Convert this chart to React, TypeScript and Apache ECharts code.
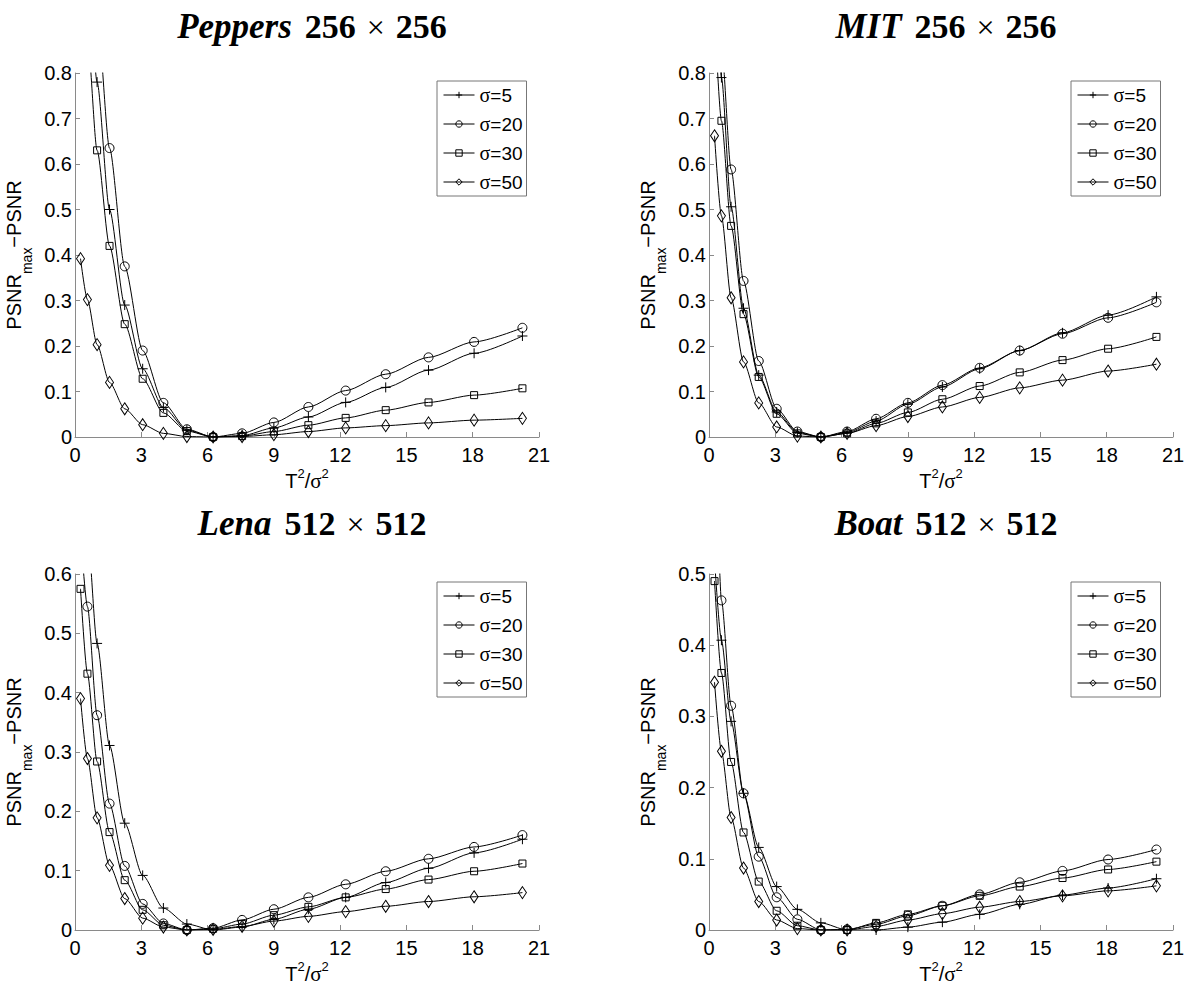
import React, { useEffect, useRef } from "react";
import * as echarts from "echarts";

// T^2 / sigma^2 sample positions
const X_VALUES = [0.25, 0.5625, 1, 1.5625, 2.25, 3.0625, 4, 5.0625, 6.25, 7.5625, 9, 10.5625, 12.25, 14.0625, 16, 18.0625, 20.25];

const SERIES_NAMES = ["σ=5", "σ=20", "σ=30", "σ=50"];
const X_TICKS = [0, 3, 6, 9, 12, 15, 18, 21];

// Peppers 256x256
const PEPPERS_S5 = [1.4, 1.05, 0.78, 0.5, 0.29, 0.15, 0.065, 0.015, 0, 0.003, 0.02, 0.044, 0.076, 0.109, 0.147, 0.184, 0.222];
const PEPPERS_S20 = [1.7, 1.3, 0.93, 0.635, 0.375, 0.19, 0.075, 0.017, 0, 0.008, 0.032, 0.066, 0.102, 0.138, 0.175, 0.209, 0.24];
const PEPPERS_S30 = [1.2, 0.88, 0.63, 0.42, 0.248, 0.128, 0.053, 0.013, 0, 0.002, 0.012, 0.026, 0.042, 0.059, 0.076, 0.092, 0.107];
const PEPPERS_S50 = [0.392, 0.302, 0.203, 0.12, 0.062, 0.027, 0.008, 0.001, 0, 0.001, 0.005, 0.012, 0.02, 0.025, 0.031, 0.037, 0.041];

// MIT 256x256
const MIT_S5 = [1.2, 0.79, 0.506, 0.283, 0.136, 0.055, 0.01, 0, 0.01, 0.035, 0.072, 0.11, 0.15, 0.19, 0.229, 0.268, 0.308];
const MIT_S20 = [1.15, 0.86, 0.588, 0.343, 0.167, 0.062, 0.012, 0, 0.012, 0.04, 0.075, 0.114, 0.152, 0.19, 0.227, 0.262, 0.296];
const MIT_S30 = [0.93, 0.695, 0.464, 0.27, 0.132, 0.051, 0.008, 0, 0.008, 0.03, 0.054, 0.083, 0.112, 0.142, 0.169, 0.194, 0.22];
const MIT_S50 = [0.662, 0.486, 0.306, 0.165, 0.075, 0.022, 0.002, 0, 0.008, 0.025, 0.045, 0.066, 0.087, 0.108, 0.125, 0.145, 0.16];

// Lena 512x512
const LENA_S5 = [0.85, 0.67, 0.483, 0.311, 0.18, 0.092, 0.037, 0.01, 0, 0.005, 0.018, 0.035, 0.055, 0.08, 0.104, 0.13, 0.153];
const LENA_S20 = [0.67, 0.545, 0.362, 0.213, 0.108, 0.044, 0.011, 0, 0.003, 0.017, 0.035, 0.055, 0.077, 0.099, 0.12, 0.14, 0.16];
const LENA_S30 = [0.575, 0.432, 0.284, 0.165, 0.084, 0.034, 0.008, 0, 0.002, 0.01, 0.025, 0.039, 0.055, 0.069, 0.085, 0.099, 0.112];
const LENA_S50 = [0.39, 0.289, 0.189, 0.109, 0.053, 0.02, 0.005, 0, 0.001, 0.006, 0.015, 0.023, 0.031, 0.04, 0.048, 0.056, 0.063];

// Boat 512x512
const BOAT_S5 = [0.52, 0.407, 0.293, 0.192, 0.116, 0.061, 0.029, 0.01, 0, 0, 0.004, 0.011, 0.022, 0.036, 0.049, 0.059, 0.072];
const BOAT_S20 = [0.75, 0.463, 0.315, 0.192, 0.103, 0.046, 0.015, 0, 0.001, 0.008, 0.02, 0.034, 0.05, 0.067, 0.083, 0.099, 0.113];
const BOAT_S30 = [0.49, 0.361, 0.236, 0.137, 0.068, 0.027, 0.006, 0, 0, 0.01, 0.022, 0.034, 0.048, 0.061, 0.073, 0.085, 0.096];
const BOAT_S50 = [0.348, 0.251, 0.158, 0.087, 0.04, 0.014, 0.002, 0, 0, 0.005, 0.014, 0.023, 0.032, 0.04, 0.048, 0.055, 0.062];

const PANEL_NAMES = ["Peppers", "MIT", "Lena", "Boat"];
const PANEL_SIZES = ["256", "256", "512", "512"];
const PANEL_YMAX = [0.8, 0.8, 0.6, 0.5];
const PANEL_DATA = [
  [PEPPERS_S5, PEPPERS_S20, PEPPERS_S30, PEPPERS_S50],
  [MIT_S5, MIT_S20, MIT_S30, MIT_S50],
  [LENA_S5, LENA_S20, LENA_S30, LENA_S50],
  [BOAT_S5, BOAT_S20, BOAT_S30, BOAT_S50],
];

// layout (px)
const GRIDS = [
  { left: 75, top: 73, width: 464, height: 364 },
  { left: 709, top: 73, width: 464, height: 364 },
  { left: 75, top: 574, width: 464, height: 360 },
  { left: 709, top: 574, width: 464, height: 360 },
];

const SYMBOLS: any[] = ["path://M0,5L10,5M5,0L5,10", "circle", "rect", "diamond"];
const SYMBOL_SIZES: any[] = [10, 9, 7, [8, 12]];

const SANS = "'Liberation Sans', Arial, Helvetica, sans-serif";
const SERIF = "'Liberation Serif', 'Times New Roman', serif";
const AXIS_GREY = "#8a8a8a";

function buildOption() {
  const grid: any[] = [];
  const xAxis: any[] = [];
  const yAxis: any[] = [];
  const series: any[] = [];
  const legend: any[] = [];
  const title: any[] = [];

  GRIDS.forEach((g, p) => {
    grid.push({ left: g.left, top: g.top, width: g.width, height: g.height, containLabel: false });
    xAxis.push({
      gridIndex: p,
      type: "value",
      min: 0,
      max: 21,
      interval: 3,
      axisLine: { show: true, lineStyle: { color: AXIS_GREY, width: 1 } },
      axisTick: { show: true, inside: true, length: 5, lineStyle: { color: AXIS_GREY } },
      splitLine: { show: false },
      axisLabel: {
        color: "#000",
        fontSize: 20,
        fontFamily: SANS,
        margin: 8,
        formatter: (v: number) => (X_TICKS.indexOf(v) >= 0 ? String(v) : ""),
      },
      name: "{a|T}{p|2}{a|/}{g|σ}{p|2}",
      nameLocation: "middle",
      nameGap: 30,
      nameTextStyle: {
        rich: {
          a: { fontSize: 20, fontFamily: SANS, color: "#000", lineHeight: 24, verticalAlign: "bottom" },
          g: { fontSize: 21, fontFamily: SERIF, color: "#000", lineHeight: 24, verticalAlign: "bottom" },
          p: { fontSize: 13, fontFamily: SANS, color: "#000", lineHeight: 13, verticalAlign: "top" },
        },
      },
    });
    yAxis.push({
      gridIndex: p,
      type: "value",
      min: 0,
      max: PANEL_YMAX[p],
      interval: 0.1,
      axisLine: { show: true, lineStyle: { color: AXIS_GREY, width: 1 } },
      axisTick: { show: true, inside: true, length: 5, lineStyle: { color: AXIS_GREY } },
      splitLine: { show: false },
      axisLabel: {
        color: "#000",
        fontSize: 20,
        fontFamily: SANS,
        margin: 3,
        formatter: (v: number) => (v === 0 ? "0" : v.toFixed(1)),
      },
      name: "{a|PSNR}{b|max}{a|−PSNR}",
      nameLocation: "middle",
      nameGap: 47,
      nameRotate: 90,
      nameTextStyle: {
        rich: {
          a: { fontSize: 20, fontFamily: SANS, color: "#000", lineHeight: 24, verticalAlign: "top" },
          b: { fontSize: 14, fontFamily: SANS, color: "#000", lineHeight: 13, verticalAlign: "bottom", padding: [0, 0, -6, 0] },
        },
      },
    });

    PANEL_DATA[p].forEach((vals, s) => {
      series.push({
        type: "line",
        name: SERIES_NAMES[s],
        xAxisIndex: p,
        yAxisIndex: p,
        data: X_VALUES.map((x, i) => [x, vals[i]]),
        symbol: SYMBOLS[s],
        symbolSize: SYMBOL_SIZES[s],
        showAllSymbol: true,
        smooth: 0.25,
        smoothMonotone: "x",
        clip: true,
        lineStyle: { color: "#000", width: 1 },
        itemStyle: { color: "transparent", borderColor: "#000", borderWidth: 1 },
        emphasis: { disabled: true },
        z: 3,
      });
    });

    legend.push({
      left: g.left + 362,
      top: g.top + 8,
      orient: "vertical",
      data: SERIES_NAMES,
      selectedMode: false,
      borderColor: "#777",
      borderWidth: 1,
      backgroundColor: "#fff",
      padding: [4, 4, 4, 6],
      itemGap: 9,
      itemWidth: 31,
      itemHeight: 8,
      itemStyle: { color: "transparent", borderColor: "#000", borderWidth: 1 },
      lineStyle: { color: "#000", width: 1 },
      formatter: (name: string) => "{g|σ}{n|" + name.slice(1) + "}",
      textStyle: {
        rich: {
          g: { fontSize: 20, fontFamily: SERIF, color: "#000" },
          n: { fontSize: 19, fontFamily: SANS, color: "#000" },
        },
      },
    });

    title.push({
      text: "{i|" + PANEL_NAMES[p] + "}{b|" + PANEL_SIZES[p] + "}{x|×}{b|" + PANEL_SIZES[p] + "}",
      left: g.left + g.width / 2,
      top: p < 2 ? 4 : 501,
      textAlign: "center",
      textStyle: {
        rich: {
          i: { fontSize: 35, fontFamily: SERIF, fontStyle: "italic", fontWeight: "bold", color: "#000", padding: [0, 13, 0, 0] },
          b: { fontSize: 34, fontFamily: SERIF, fontWeight: "bold", color: "#000" },
          x: { fontSize: 32, fontFamily: SERIF, fontWeight: "normal", color: "#000", padding: [0, 11, 0, 11] },
        },
      },
    });
  });

  return {
    animation: false,
    backgroundColor: "#fff",
    title,
    legend,
    grid,
    xAxis,
    yAxis,
    series,
  };
}

export default function App() {
  const ref = useRef<HTMLDivElement>(null);
  useEffect(() => {
    if (!ref.current) return;
    const chart = echarts.init(ref.current, undefined, { renderer: "svg" });
    chart.setOption(buildOption() as any);
    return () => chart.dispose();
  }, []);
  return (
    <div
      ref={ref}
      style={{ position: "fixed", left: 0, top: 0, width: 1199, height: 985, background: "#fff" }}
    />
  );
}
